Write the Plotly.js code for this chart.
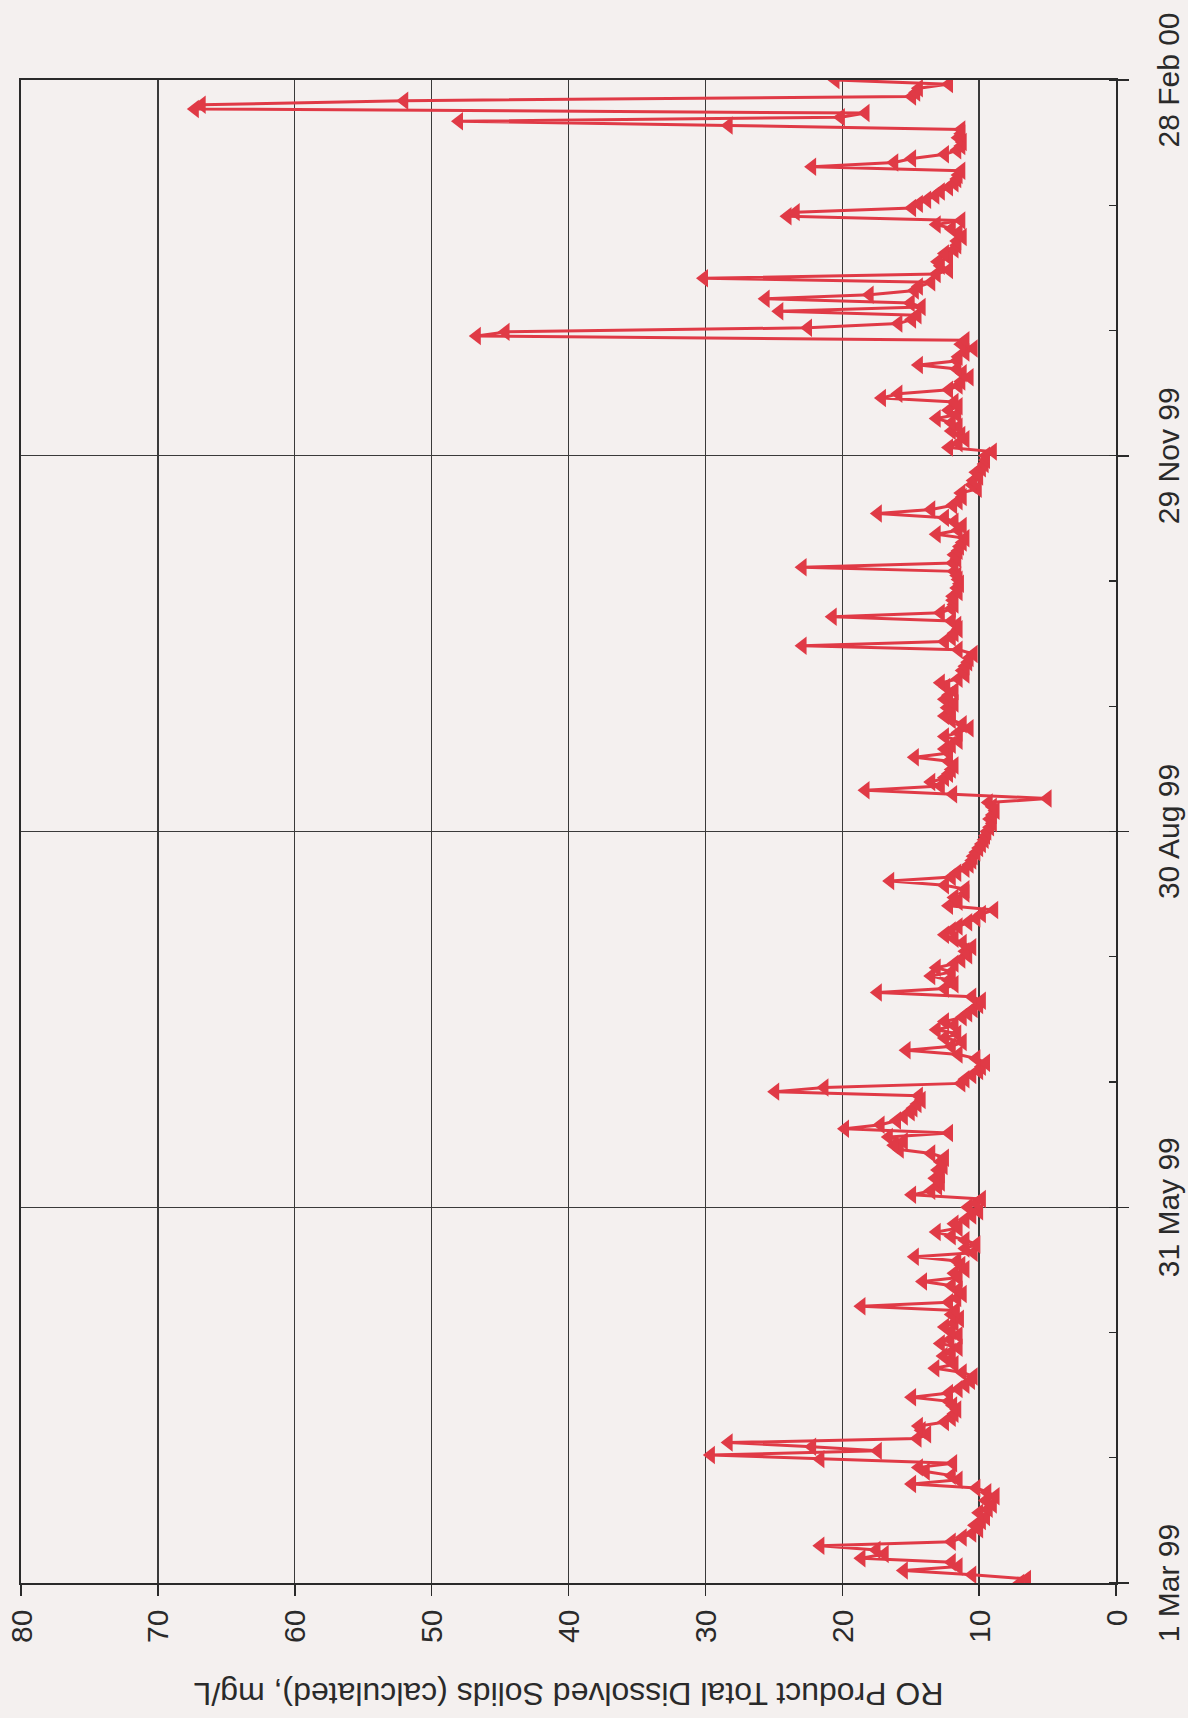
<!DOCTYPE html>
<html>
<head>
<meta charset="utf-8">
<script src="https://cdn.plot.ly/plotly-3.0.1.min.js"></script>
<style>
  html, body { margin: 0; padding: 0; background: #f4f0ef; }
  #page { position: relative; width: 1188px; height: 1718px; overflow: hidden; background: #f4f0ef; }
  #chart { position: absolute; left: 0; top: 0; width: 1718px; height: 1188px;
           transform-origin: 0 0; transform: translate(0px, 1718px) rotate(-90deg); }
</style>
</head>
<body>
<div id="page"><div id="chart"></div></div>
<script>
// Daily readings starting 1 Mar 1999 (one value per day)
const startDate = [1999, 2, 1]; // year, month index, day
const tdsValues = [
  7.0, 6.5, 10.5, 15.5, 11.5, 12.0, 18.6, 16.9, 17.5, 21.6,
  12.0, 11.2, 10.5, 10.0, 10.3, 9.8, 9.5, 10.0, 9.3, 9.0,
  9.5, 8.8, 9.4, 10.2, 14.9, 11.5, 12.0, 13.9, 14.4, 11.9,
  21.6, 29.6, 17.4, 22.2, 28.3, 14.5, 13.8, 14.2, 14.4, 12.5,
  12.0, 11.8, 11.6, 11.9, 12.2, 14.9, 12.2, 11.5, 11.0, 10.6,
  10.4, 11.2, 13.2, 11.8, 12.1, 12.6, 12.0, 11.5, 12.8, 12.1,
  11.5, 12.0, 12.5, 11.8, 11.4, 12.0, 11.7, 18.6, 12.2, 11.6,
  11.2, 11.5, 12.0, 14.1, 11.5, 11.8, 11.0, 11.3, 11.6, 14.7,
  10.4, 11.0, 10.2, 11.0, 12.0, 13.1, 11.5, 11.8, 11.0, 10.5,
  10.0, 10.8, 10.2, 9.8, 14.9, 13.5, 13.0, 12.8, 13.2, 12.8,
  13.0, 12.6, 12.8, 12.5, 13.5, 15.8, 16.2, 15.5, 16.6, 12.2,
  19.8, 17.2, 16.0, 15.5, 15.0, 14.8, 14.5, 14.2, 14.4, 24.9,
  21.3, 11.3, 11.0, 10.5, 10.0, 9.8, 9.5, 10.2, 11.5, 15.3,
  12.0, 11.2, 12.5, 11.6, 13.1, 11.8, 12.5, 11.2, 10.8, 10.4,
  10.0, 9.8, 10.5, 17.4, 12.5, 11.8, 12.2, 13.5, 12.0, 13.1,
  11.8, 11.3, 10.8, 11.0, 10.5, 11.2, 11.8, 12.5, 12.0, 11.5,
  10.8, 10.2, 9.8, 8.9, 12.2, 11.5, 11.8, 11.0, 11.0, 12.5,
  16.5, 12.0, 11.6, 11.0, 10.7, 10.5, 10.4, 10.2, 10.0, 9.8,
  9.6, 9.5, 9.4, 9.2, 9.0, 9.2, 9.0, 8.8, 9.0, 9.3,
  5.0, 11.9, 18.3, 12.8, 13.5, 12.5, 12.2, 12.0, 11.8, 12.2,
  14.7, 12.2, 12.5, 12.0, 11.5, 12.5, 11.5, 10.7, 11.2, 12.0,
  12.5, 12.0, 12.3, 11.8, 12.5, 12.2, 11.8, 12.4, 12.8, 11.5,
  11.0, 11.2, 11.0, 10.8, 10.7, 10.4, 11.5, 22.9, 12.5, 12.0,
  11.8, 11.5, 11.6, 12.0, 20.7, 12.8, 12.0, 11.8, 11.9, 11.9,
  11.5, 11.6, 11.4, 11.5, 11.6, 11.8, 22.9, 11.9, 11.6, 11.8,
  11.5, 11.4, 11.2, 11.0, 13.1, 11.5, 11.2, 11.8, 12.5, 17.4,
  13.5, 11.9, 11.5, 11.2, 11.3, 10.1, 10.5, 10.4, 10.0, 10.2,
  9.8, 9.6, 9.5, 9.5, 9.0, 12.2, 11.5, 11.0, 11.3, 12.0,
  11.5, 12.0, 13.1, 11.6, 12.2, 11.5, 11.8, 17.1, 15.9, 12.2,
  11.5, 11.3, 10.7, 11.2, 11.6, 14.4, 11.6, 11.5, 11.0, 10.4,
  11.3, 11.0, 46.7, 44.6, 22.5, 15.9, 14.9, 14.5, 24.6, 14.2,
  15.0, 25.6, 18.0, 14.7, 14.4, 13.5, 30.1, 13.1, 12.2, 12.8,
  13.0, 12.2, 12.5, 11.8, 11.6, 11.6, 11.2, 11.5, 12.0, 13.1,
  11.3, 24.0, 23.4, 14.9, 14.4, 13.8, 13.2, 12.8, 12.2, 11.8,
  11.6, 11.5, 11.3, 22.2, 16.2, 14.9, 12.5, 11.6, 11.3, 11.2,
  11.5, 11.3, 11.3, 28.3, 48.0, 20.1, 18.3, 67.3, 66.8, 52.0,
  14.9, 14.6, 14.4, 12.2, 20.5
];
const tickDates = ['1999-03-01', '1999-05-31', '1999-08-30', '1999-11-29', '2000-02-28'];
const yTitle = 'RO Product Total Dissolved Solids (calculated), mg/L';

const dates = tdsValues.map((_, i) => {
  const d = new Date(Date.UTC(startDate[0], startDate[1], startDate[2] + i));
  return d.toISOString().slice(0, 10);
});

const DAY = 86400000;
const red = '#e03a46';
const ink = '#2a2a2a';
const fontFam = 'Liberation Sans, Arial, Helvetica, sans-serif';

const trace = {
  x: dates, y: tdsValues, type: 'scatter', mode: 'lines+markers',
  line: { color: red, width: 3 },
  marker: { symbol: 'triangle-up', size: 16, color: red },
  hoverinfo: 'skip'
};

const layout = {
  width: 1718, height: 1188,
  margin: { l: 135, r: 80, t: 21, b: 72, pad: 0 },
  paper_bgcolor: '#f4f0ef', plot_bgcolor: '#f4f0ef',
  showlegend: false,
  font: { family: fontFam, color: ink },
  xaxis: {
    type: 'date',
    range: [tickDates[0], tickDates[tickDates.length - 1]],
    tickmode: 'array', tickvals: tickDates,
    tickformat: '%-d %b %y',
    ticks: 'outside', ticklen: 11, tickwidth: 1.5, tickcolor: ink,
    ticklabelstandoff: 14,
    tickfont: { size: 30, family: fontFam, color: ink },
    showgrid: true, gridcolor: '#3a3a3a', gridwidth: 1.3,
    showline: true, linecolor: ink, linewidth: 1.6, mirror: true,
    zeroline: false,
    minor: { tick0: tickDates[0], dtick: 91 * DAY / 3, ticks: 'inside', ticklen: 7, tickwidth: 1.3, tickcolor: ink, showgrid: false }
  },
  yaxis: {
    range: [0, 80], dtick: 10, tick0: 0,
    ticks: 'outside', ticklen: 11, tickwidth: 1.5, tickcolor: ink,
    ticklabelstandoff: 8,
    tickfont: { size: 30, family: fontFam, color: ink },
    showgrid: true, gridcolor: '#3a3a3a', gridwidth: 1.3,
    showline: true, linecolor: ink, linewidth: 1.6, mirror: true,
    zeroline: false,
    title: { text: yTitle, font: { size: 32, family: fontFam, color: ink }, standoff: 30 }
  }
};

Plotly.newPlot('chart', [trace], layout, { displayModeBar: false, staticPlot: true });
</script>
</body>
</html>
